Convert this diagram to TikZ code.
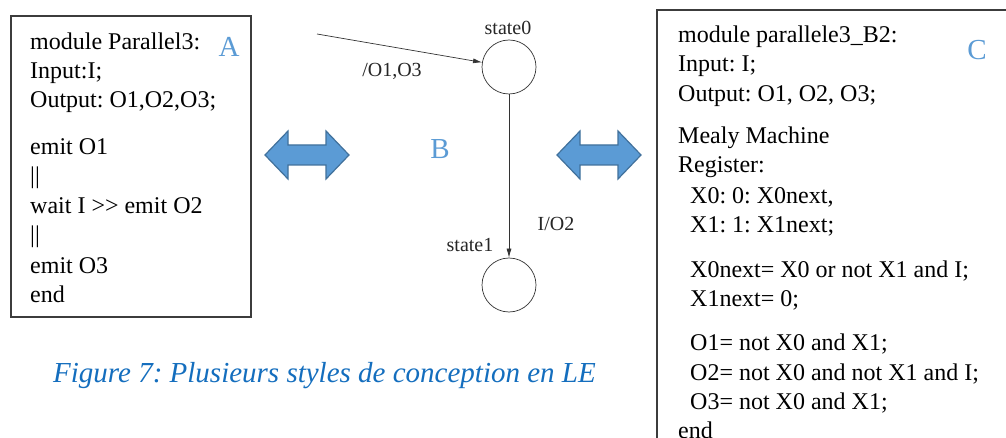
\documentclass[tikz,border=0pt]{standalone}
\usepackage{fontspec}
\setmainfont{Liberation Serif}
\usetikzlibrary{arrows.meta}
\frenchspacing
\definecolor{lblue}{RGB}{91,155,213}
\definecolor{dblue}{RGB}{65,113,156}
\definecolor{capblue}{RGB}{20,110,190}
\definecolor{boxgray}{RGB}{60,60,60}
\tikzset{
  codeline/.style={anchor=base west, inner sep=0pt, font=\fontsize{24}{29}\selectfont},
  letter/.style={anchor=base, inner sep=0pt, text=lblue, font=\fontsize{29}{34}\selectfont},
  smalltxt/.style={anchor=base, inner sep=0pt, text=black!85, font=\fontsize{20}{24}\selectfont},
  statebox/.style={circle, draw=black!80, line width=0.7pt, minimum size=54pt, inner sep=0pt},
  trans/.style={draw=black!80, line width=0.7pt, -{Latex[length=9pt,width=5pt]}},
  panel/.style={draw=boxgray, line width=1.1pt},
  bigarrow/.style={fill=lblue, draw=dblue, line width=1.2pt, line join=miter}
}
\begin{document}
\begin{tikzpicture}[x=1pt,y=-1pt]
\useasboundingbox (0,0) rectangle (1006,438);
\clip (0,0) rectangle (1006,438);
\fill[white] (0,0) rectangle (1006,438);
% Panel A
\draw[panel] (11,16) rectangle (251,317);
\foreach \t/\y [count=\i] in {module Parallel3:/50, Input:I;/79, {Output: O1,O2,O3;}/108, emit O1/155, ||/184, wait I >{}> emit O2/214, ||/243, emit O3/273, end/302}
  \node[codeline] (a\i) at (30,\y) {\t};
\node[letter] (labA) at (229,57) {A};
% Panel C
\draw[panel] (657,10) rectangle (1030,470);
\foreach \t/\x/\y [count=\i] in {module parallele3\_B2:/678/43, Input: I;/678/72, {Output: O1, O2, O3;}/678/102, Mealy Machine/678/144, Register:/678/173, {X0: 0: X0next,}/690/204, X1: 1: X1next;/690/233, X0next= X0 or not X1 and I;/690/277, X1next= 0;/690/306, O1= not X0 and X1;/690/350, O2= not X0 and not X1 and I;/690/380, O3= not X0 and X1;/690/409, end/678/438}
  \node[codeline] (c\i) at (\x,\y) {\t};
\node[letter] (labC) at (977,60) {C};
% B label
\node[letter] (labB) at (440,159) {B};
% Double arrows
\draw[bigarrow] (265,155) -- (288,131) -- (288,145) -- (326,145) -- (326,131) -- (349,155) -- (326,179) -- (326,165) -- (288,165) -- (288,179) -- cycle;
\draw[bigarrow] (557,155) -- (580,131) -- (580,145) -- (618,145) -- (618,131) -- (641,155) -- (618,179) -- (618,165) -- (580,165) -- (580,179) -- cycle;
% State machine
\node[statebox] (s0) at (509,67) {};
\node[statebox] (s1) at (509,285) {};
\node[smalltxt] (s0lab) at (508,35) {state0};
\node[smalltxt] (s1lab) at (470,252) {state1};
\coordinate (init) at (317,34);
\draw[trans] (init) -- (s0);
\draw[trans] (s0) -- (s1);
\node[smalltxt] (t0) at (392,77) {/O1,O3};
\node[smalltxt] (t1) at (556,231) {I/O2};
% Caption
\node[anchor=base west, inner sep=0pt, text=capblue, font=\fontsize{29}{34}\selectfont\itshape] (cap) at (53,382) {Figure 7: Plusieurs styles de conception en LE};
\end{tikzpicture}
\end{document}
